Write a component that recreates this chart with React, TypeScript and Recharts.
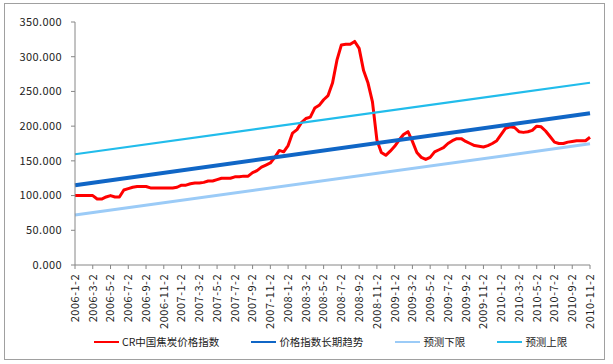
import { LineChart, Line, XAxis, YAxis } from 'recharts'

// semi-monthly sample dates, 2006-1-2 .. 2010-11-2
const years = [2006, 2007, 2008, 2009, 2010]
const days = [2, 17]
const lastDate = '2010-11-2'

const dates: string[] = []
for (const y of years) {
  for (let m = 1; m <= 12; m++) {
    for (const d of days) {
      if (dates[dates.length - 1] === lastDate) break
      dates.push(`${y}-${m}-${d}`)
    }
  }
}

// CR中国焦炭价格指数
const cokeIndex = [
  100, 100, 100, 100, 100, 95, 95, 98, 100, 98,
  98, 108, 110, 112, 113, 113, 113, 111, 111, 111,
  111, 111, 111, 112, 115, 115, 117, 118, 118, 119,
  121, 121, 123, 125, 125, 125, 127, 127, 128, 128,
  133, 136, 141, 144, 147, 155, 165, 163, 172, 190,
  195, 205, 211, 213, 226, 230, 238, 244, 262, 295,
  317, 318, 318, 322, 312, 280, 262, 235, 180, 162,
  158, 164, 171, 180, 188, 192, 178, 162, 155, 152,
  155, 163, 166, 169, 175, 179, 182, 182, 178, 175,
  172, 171, 170, 172, 175, 179, 188, 197, 199, 198,
  192, 191, 192, 194, 200, 199, 193, 185, 177, 175,
  175, 177, 178, 179, 179, 179, 184,
]

// straight lines: value at first and last date
const trendEnds = [115, 218.5]
const lowerEnds = [72, 174.5]
const upperEnds = [159.5, 262.5]

const yTicks = [0, 50, 100, 150, 200, 250, 300, 350]

const series = [
  { key: 'coke', name: 'CR中国焦炭价格指数', color: '#FF0000', width: 3 },
  { key: 'trend', name: '价格指数长期趋势', color: '#1066C6', width: 4 },
  { key: 'lower', name: '预测下限', color: '#9BCBF7', width: 3 },
  { key: 'upper', name: '预测上限', color: '#21BCEB', width: 2.2 },
]

const last = dates.length - 1
const ends = (pair: number[], i: number) => (i === 0 ? pair[0] : i === last ? pair[1] : null)

const data = dates.map((date, i) => ({
  date,
  coke: cokeIndex[i],
  trend: ends(trendEnds, i),
  lower: ends(lowerEnds, i),
  upper: ends(upperEnds, i),
}))

const FONT = "'Noto Sans CJK SC', 'Noto Sans', sans-serif"

const DateTick = ({ x, y, payload }: any) => (
  <g transform={`translate(${x},${y})`}>
    <text
      transform="rotate(-90)"
      textAnchor="end"
      dy="0.35em"
      fontSize={11}
      letterSpacing={0.5}
      fill="#222"
      fontFamily={FONT}
    >
      {payload.value}
    </text>
  </g>
)

export default function App() {
  return (
    <div style={{ position: 'absolute', left: 0, top: 0, width: 613, height: 364, background: '#fff', overflow: 'hidden' }}>
      <div
        style={{
          position: 'absolute',
          left: 4,
          top: 3,
          width: 601,
          height: 357,
          border: '1px solid #a0a0a0',
          boxSizing: 'border-box',
        }}
      />
      <div style={{ position: 'absolute', left: 0, top: 0 }}>
        <LineChart width={613} height={364} data={data} margin={{ top: 22, right: 23, left: 0, bottom: 0 }}>
          <XAxis
            dataKey="date"
            interval={3}
            height={99}
            tickSize={4}
            tickMargin={5}
            stroke="#868686"
            tick={<DateTick />}
          />
          <YAxis
            width={75}
            domain={[0, 350]}
            ticks={yTicks}
            interval={0}
            tickSize={4}
            tickMargin={9}
            stroke="#868686"
            tickFormatter={(v: number) => v.toFixed(3)}
            tick={{ fill: '#222', fontSize: 11, fontFamily: FONT, letterSpacing: 0.4 }}
          />
          {series.map((s) => (
            <Line
              key={s.key}
              type="linear"
              dataKey={s.key}
              name={s.name}
              stroke={s.color}
              strokeWidth={s.width}
              strokeLinejoin="round"
              dot={false}
              activeDot={false}
              connectNulls
              isAnimationActive={false}
            />
          ))}
        </LineChart>
      </div>
      <div
        style={{
          position: 'absolute',
          left: 94,
          top: 334,
          display: 'flex',
          alignItems: 'center',
          gap: 32,
          fontFamily: FONT,
          fontSize: 10.5,
          color: '#222',
          lineHeight: '16px',
        }}
      >
        {series.map((s) => (
          <div key={s.key} style={{ display: 'flex', alignItems: 'center' }}>
            <span style={{ display: 'inline-block', width: 25, height: 2, background: s.color, marginRight: 3 }} />
            <span>{s.name}</span>
          </div>
        ))}
      </div>
    </div>
  )
}
